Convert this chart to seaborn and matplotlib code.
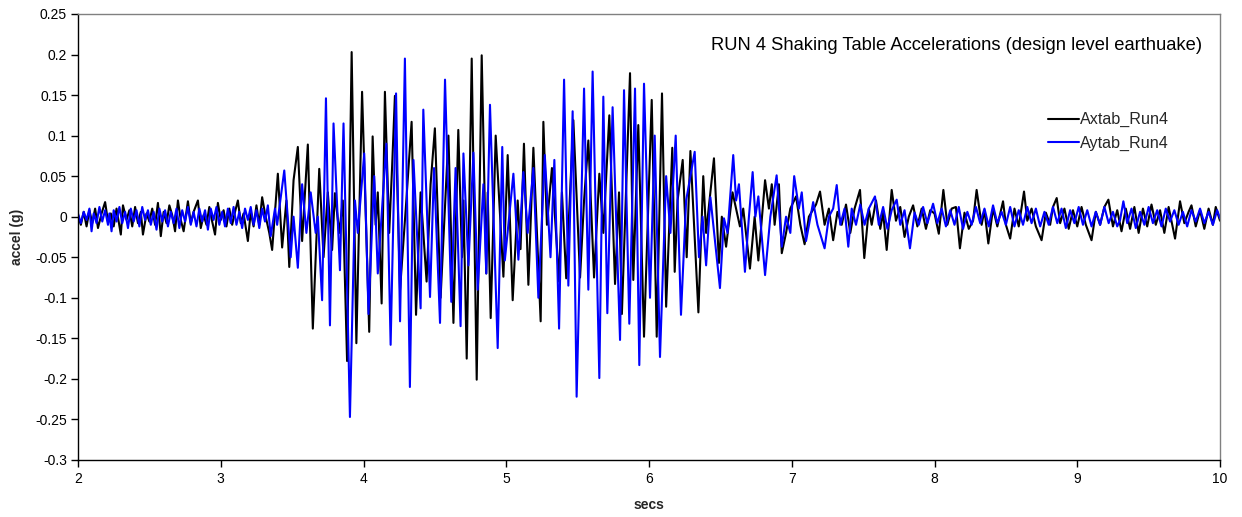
import matplotlib
matplotlib.use("Agg")
import matplotlib.pyplot as plt
import seaborn as sns
import pandas as pd

# Axtab_Run4 : time (s) and acceleration (g) at the turning points of the record
ax_t = [
    2.00, 2.02, 2.04, 2.06, 2.08, 2.10, 2.12, 2.14, 2.165, 2.19, 2.21, 2.23, 2.25, 2.27, 2.30, 2.315,
    2.34, 2.36, 2.38, 2.40, 2.42, 2.44, 2.455, 2.48, 2.50, 2.52, 2.54, 2.56, 2.58, 2.60, 2.62, 2.64,
    2.66, 2.68, 2.70, 2.72, 2.74, 2.77, 2.79, 2.81, 2.84, 2.86, 2.88, 2.90, 2.92, 2.94, 2.96, 2.98,
    3.00, 3.02, 3.04, 3.06, 3.08, 3.10, 3.12, 3.14, 3.16, 3.19, 3.21, 3.23, 3.25, 3.27, 3.29, 3.31,
    3.34, 3.36, 3.40, 3.43, 3.46, 3.48, 3.51, 3.54, 3.57, 3.61, 3.645, 3.69, 3.72, 3.75, 3.78, 3.80,
    3.83, 3.855, 3.885, 3.917, 3.95, 3.99, 4.04, 4.064, 4.085, 4.10, 4.127, 4.15, 4.18, 4.20, 4.22, 4.256,
    4.30, 4.337, 4.368, 4.40, 4.442, 4.47, 4.50, 4.54, 4.595, 4.63, 4.664, 4.69, 4.70, 4.723, 4.758, 4.793,
    4.828, 4.86, 4.87, 4.891, 4.926, 4.98, 5.01, 5.045, 5.08, 5.10, 5.124, 5.155, 5.19, 5.241, 5.26, 5.285,
    5.32, 5.37, 5.39, 5.42, 5.47, 5.517, 5.545, 5.575, 5.615, 5.652, 5.68, 5.722, 5.762, 5.79, 5.81, 5.867,
    5.89, 5.925, 5.965, 6.019, 6.054, 6.091, 6.12, 6.163, 6.18, 6.20, 6.236, 6.264, 6.29, 6.346, 6.38, 6.40,
    6.455, 6.49, 6.51, 6.54, 6.585, 6.637, 6.66, 6.707, 6.74, 6.766, 6.813, 6.84, 6.86, 6.88, 6.91, 6.93,
    6.96, 6.99, 7.03, 7.06, 7.09, 7.12, 7.17, 7.198, 7.23, 7.26, 7.29, 7.32, 7.35, 7.38, 7.41, 7.44,
    7.478, 7.508, 7.54, 7.56, 7.59, 7.62, 7.64, 7.665, 7.70, 7.73, 7.76, 7.79, 7.82, 7.85, 7.88, 7.91,
    7.94, 7.97, 8.00, 8.03, 8.062, 8.09, 8.12, 8.15, 8.178, 8.21, 8.24, 8.27, 8.295, 8.33, 8.35, 8.377,
    8.41, 8.44, 8.48, 8.50, 8.53, 8.56, 8.59, 8.627, 8.65, 8.68, 8.71, 8.75, 8.78, 8.81, 8.83, 8.856,
    8.88, 8.91, 8.94, 8.97, 9.00, 9.03, 9.06, 9.10, 9.13, 9.16, 9.19, 9.218, 9.25, 9.28, 9.31, 9.34,
    9.37, 9.40, 9.43, 9.46, 9.49, 9.52, 9.55, 9.58, 9.61, 9.64, 9.685, 9.72, 9.75, 9.78, 9.80, 9.83,
    9.86, 9.89, 9.92, 9.95, 9.97, 10.00,
]
ax_v = [
    0.002, -0.010, 0.006, -0.012, 0.008, -0.008, 0.010, -0.014, 0.004, 0.018, -0.006, 0.004, -0.012, 0.010, -0.022, 0.014,
    -0.004, 0.008, -0.012, 0.012, -0.008, 0.006, -0.022, 0.004, -0.006, 0.010, -0.010, 0.017, -0.024, 0.006, -0.008, 0.014,
    0.002, -0.018, 0.020, -0.004, -0.018, 0.019, -0.008, 0.006, 0.020, -0.014, 0.002, -0.010, 0.012, -0.006, -0.022, 0.017,
    -0.004, 0.008, -0.012, 0.010, -0.010, 0.006, 0.020, -0.008, 0.004, -0.030, 0.006, -0.012, 0.014, -0.010, 0.024, 0.004,
    -0.020, -0.041, 0.053, -0.038, 0.020, -0.062, 0.045, 0.086, -0.030, 0.089, -0.138, 0.059, -0.050, 0.030, -0.041, 0.029,
    -0.020, 0.020, -0.178, 0.203, -0.156, 0.154, -0.142, 0.099, -0.010, 0.030, -0.107, 0.154, -0.020, 0.060, 0.149, -0.090,
    0.020, 0.117, -0.121, 0.030, -0.080, 0.040, 0.109, -0.100, 0.100, -0.131, 0.107, -0.050, 0.020, -0.175, 0.195, -0.201,
    0.199, -0.070, 0.030, -0.125, 0.100, -0.074, 0.076, -0.103, 0.020, -0.040, 0.090, -0.084, 0.085, -0.129, 0.117, -0.010,
    0.060, -0.080, 0.030, -0.076, 0.119, -0.075, 0.020, 0.094, -0.075, 0.053, -0.020, 0.125, -0.083, 0.030, -0.120, 0.177,
    -0.078, 0.113, -0.148, 0.144, -0.148, 0.152, -0.111, 0.085, -0.068, 0.020, 0.070, -0.050, 0.081, -0.118, 0.050, -0.020,
    0.072, -0.057, 0.000, -0.037, 0.030, -0.012, 0.010, -0.064, 0.000, -0.054, 0.045, 0.010, 0.040, -0.010, 0.040, -0.045,
    -0.020, 0.010, 0.025, -0.010, -0.034, 0.000, 0.015, 0.031, -0.010, 0.010, -0.029, 0.006, -0.010, 0.015, -0.020, 0.010,
    0.033, -0.051, 0.010, -0.010, 0.020, -0.015, 0.005, -0.041, 0.033, -0.005, 0.012, -0.025, 0.000, 0.014, -0.012, 0.010,
    -0.015, 0.008, 0.004, -0.021, 0.033, -0.010, 0.010, 0.012, -0.039, 0.005, -0.015, -0.005, 0.033, -0.010, 0.008, -0.033,
    0.010, -0.012, 0.019, -0.010, -0.027, 0.010, -0.012, 0.031, -0.005, 0.010, -0.012, -0.029, 0.005, -0.010, 0.012, 0.023,
    -0.008, 0.010, -0.015, 0.008, -0.012, 0.012, -0.010, -0.029, 0.006, -0.010, 0.012, 0.021, -0.012, 0.008, -0.018, 0.010,
    -0.015, 0.012, -0.020, 0.010, -0.012, 0.015, -0.010, 0.008, -0.020, 0.012, -0.027, 0.019, -0.008, 0.006, 0.014, -0.012,
    0.008, -0.015, 0.010, -0.010, 0.012, -0.005,
]

# Aytab_Run4 : time (s) and acceleration (g) at the turning points of the record
ay_t = [
    2.00, 2.02, 2.04, 2.06, 2.08, 2.095, 2.11, 2.13, 2.15, 2.17, 2.19, 2.21, 2.22, 2.235, 2.25, 2.27,
    2.29, 2.31, 2.33, 2.35, 2.37, 2.39, 2.41, 2.43, 2.45, 2.47, 2.49, 2.51, 2.53, 2.55, 2.57, 2.59,
    2.61, 2.63, 2.65, 2.67, 2.69, 2.71, 2.73, 2.75, 2.77, 2.79, 2.81, 2.83, 2.85, 2.87, 2.89, 2.91,
    2.93, 2.95, 2.97, 2.99, 3.01, 3.03, 3.05, 3.07, 3.09, 3.11, 3.13, 3.15, 3.17, 3.19, 3.21, 3.23,
    3.25, 3.27, 3.29, 3.31, 3.33, 3.35, 3.38, 3.395, 3.445, 3.49, 3.51, 3.54, 3.57, 3.60, 3.63, 3.665,
    3.68, 3.71, 3.737, 3.765, 3.79, 3.835, 3.86, 3.905, 3.94, 3.96, 4.005, 4.035, 4.075, 4.10, 4.16, 4.19,
    4.228, 4.256, 4.29, 4.325, 4.35, 4.40, 4.419, 4.466, 4.494, 4.536, 4.571, 4.615, 4.645, 4.68, 4.70, 4.735,
    4.77, 4.80, 4.84, 4.86, 4.886, 4.94, 4.972, 4.99, 5.05, 5.085, 5.12, 5.15, 5.19, 5.225, 5.27, 5.31,
    5.337, 5.37, 5.405, 5.435, 5.465, 5.493, 5.545, 5.575, 5.605, 5.652, 5.68, 5.708, 5.745, 5.797, 5.825, 5.862,
    5.902, 5.932, 5.965, 6.007, 6.04, 6.077, 6.12, 6.15, 6.187, 6.224, 6.26, 6.32, 6.35, 6.375, 6.40, 6.43,
    6.497, 6.525, 6.55, 6.59, 6.61, 6.63, 6.672, 6.70, 6.726, 6.745, 6.766, 6.813, 6.85, 6.894, 6.93, 6.96,
    6.99, 7.017, 7.05, 7.07, 7.10, 7.15, 7.18, 7.23, 7.26, 7.29, 7.315, 7.34, 7.37, 7.396, 7.42, 7.45,
    7.48, 7.51, 7.54, 7.583, 7.61, 7.64, 7.67, 7.70, 7.735, 7.76, 7.79, 7.828, 7.86, 7.89, 7.92, 7.95,
    7.99, 8.02, 8.05, 8.08, 8.11, 8.14, 8.17, 8.20, 8.23, 8.26, 8.29, 8.32, 8.35, 8.38, 8.41, 8.44,
    8.47, 8.50, 8.53, 8.56, 8.59, 8.62, 8.65, 8.68, 8.71, 8.74, 8.77, 8.80, 8.83, 8.86, 8.89, 8.92,
    8.95, 8.98, 9.01, 9.04, 9.07, 9.10, 9.13, 9.16, 9.19, 9.22, 9.25, 9.28, 9.30, 9.323, 9.35, 9.38,
    9.41, 9.44, 9.47, 9.50, 9.53, 9.56, 9.59, 9.62, 9.65, 9.68, 9.71, 9.74, 9.77, 9.80, 9.83, 9.86,
    9.89, 9.92, 9.95, 9.98, 10.00,
]
ay_v = [
    0.004, -0.008, 0.006, -0.004, 0.010, -0.018, 0.004, -0.008, 0.012, -0.006, 0.008, -0.010, 0.004, -0.018, 0.008, -0.006,
    0.012, -0.008, 0.006, -0.014, 0.010, -0.006, 0.008, -0.012, 0.012, -0.004, 0.008, -0.010, 0.006, -0.016, 0.010, -0.006,
    0.008, -0.012, 0.006, -0.008, 0.010, -0.014, 0.008, -0.006, 0.012, -0.010, 0.006, -0.012, 0.010, -0.006, 0.008, -0.016,
    0.010, -0.004, 0.012, -0.010, 0.006, -0.012, 0.010, -0.008, 0.012, -0.010, 0.006, -0.014, 0.010, -0.004, 0.012, -0.010,
    0.008, -0.014, 0.010, -0.006, 0.014, -0.024, 0.010, -0.010, 0.057, -0.050, 0.000, -0.063, 0.040, -0.020, 0.030, -0.020,
    0.000, -0.103, 0.146, -0.134, 0.115, -0.066, 0.115, -0.247, 0.020, -0.020, 0.078, -0.120, 0.050, -0.070, 0.090, -0.158,
    0.152, -0.129, 0.195, -0.210, 0.070, -0.113, 0.132, -0.099, 0.060, -0.131, 0.169, -0.105, 0.060, -0.135, 0.078, -0.060,
    0.079, -0.090, 0.040, -0.070, 0.138, -0.162, 0.086, -0.054, 0.053, -0.053, 0.055, -0.020, 0.060, -0.100, 0.076, -0.050,
    0.070, -0.138, 0.169, -0.085, 0.130, -0.222, 0.158, -0.090, 0.179, -0.199, 0.148, -0.119, 0.135, -0.152, 0.156, -0.132,
    0.158, -0.183, 0.164, -0.100, 0.100, -0.173, 0.050, -0.020, 0.100, -0.121, 0.020, 0.080, -0.050, 0.000, -0.060, 0.024,
    -0.088, -0.002, -0.020, 0.076, 0.020, 0.040, -0.068, 0.000, 0.055, 0.000, 0.025, -0.072, 0.000, 0.051, -0.037, 0.000,
    -0.020, 0.050, 0.010, 0.030, -0.030, 0.018, -0.010, -0.039, 0.000, 0.010, 0.039, -0.010, 0.010, -0.037, 0.010, -0.010,
    0.015, -0.010, 0.010, 0.025, -0.010, 0.012, -0.015, 0.008, 0.021, -0.010, 0.008, -0.039, 0.005, -0.010, 0.012, -0.008,
    0.016, -0.008, 0.010, -0.012, 0.008, -0.010, 0.012, -0.015, 0.006, -0.010, 0.012, -0.008, 0.010, -0.012, 0.014, -0.008,
    0.006, -0.010, 0.012, -0.012, 0.008, -0.010, 0.012, -0.008, 0.010, -0.012, 0.006, -0.010, 0.012, -0.008, 0.010, -0.014,
    0.008, -0.008, 0.012, -0.010, 0.008, -0.012, 0.006, -0.010, 0.012, -0.008, 0.006, -0.012, -0.004, 0.019, -0.008, 0.010,
    -0.014, 0.006, -0.010, 0.012, -0.008, 0.008, -0.012, 0.010, -0.006, 0.008, -0.010, 0.006, -0.012, 0.008, -0.006, 0.010,
    -0.008, 0.006, -0.010, 0.008, -0.002,
]

series_names = ["Axtab_Run4", "Aytab_Run4"]
series_colors = ["#000000", "#0000FF"]
x_ticks = [2, 3, 4, 5, 6, 7, 8, 9, 10]
y_ticks = [0.25, 0.2, 0.15, 0.1, 0.05, 0, -0.05, -0.1, -0.15, -0.2, -0.25, -0.3]
y_tick_labels = ["0.25", "0.2", "0.15", "0.1", "0.05", "0", "-0.05", "-0.1", "-0.15", "-0.2", "-0.25", "-0.3"]
title_text = "RUN 4 Shaking Table Accelerations (design level earthuake)"

sns.set_theme(style="white")
plt.rcParams["font.family"] = ["Liberation Sans", "DejaVu Sans"]

df = pd.concat([
    pd.DataFrame({"secs": ax_t, "accel": ax_v, "series": series_names[0]}),
    pd.DataFrame({"secs": ay_t, "accel": ay_v, "series": series_names[1]}),
], ignore_index=True)

fig = plt.figure(figsize=(12.42, 5.17), dpi=100)
ax = fig.add_axes([0.0628, 0.1103, 0.9195, 0.8627])

sns.lineplot(
    data=df, x="secs", y="accel", hue="series", hue_order=series_names,
    palette=series_colors, estimator=None, sort=False, linewidth=1.5, ax=ax,
)

ax.set_xlim(2, 10)
ax.set_ylim(-0.3, 0.25)
ax.set_xticks(x_ticks)
ax.set_xticklabels([str(v) for v in x_ticks], fontsize=10)
ax.set_yticks(y_ticks)
ax.set_yticklabels(y_tick_labels, fontsize=10)
ax.tick_params(axis="both", direction="out", length=5, width=1, color="#000000",
               bottom=True, left=True, labelcolor="#000000")
ax.tick_params(axis="x", pad=4)
ax.tick_params(axis="y", pad=3)

for side in ["top", "right"]:
    ax.spines[side].set_color("#808080")
    ax.spines[side].set_linewidth(1.0)
for side in ["left", "bottom"]:
    ax.spines[side].set_color("#000000")
    ax.spines[side].set_linewidth(1.0)

ax.set_xlabel("secs", fontsize=10, fontweight="bold", labelpad=8)
ax.set_ylabel("accel (g)", fontsize=10, fontweight="bold", labelpad=8)

ax.text(0.984, 0.93, title_text, transform=ax.transAxes, ha="right", va="center",
        fontsize=13.2, color="#000000")

leg = ax.legend(loc="upper left", bbox_to_anchor=(0.8438, 0.794), frameon=False,
                fontsize=11.6, handlelength=1.9, handletextpad=0.1, labelspacing=0.5,
                borderaxespad=0)

fig.savefig("out.png", dpi=100)
